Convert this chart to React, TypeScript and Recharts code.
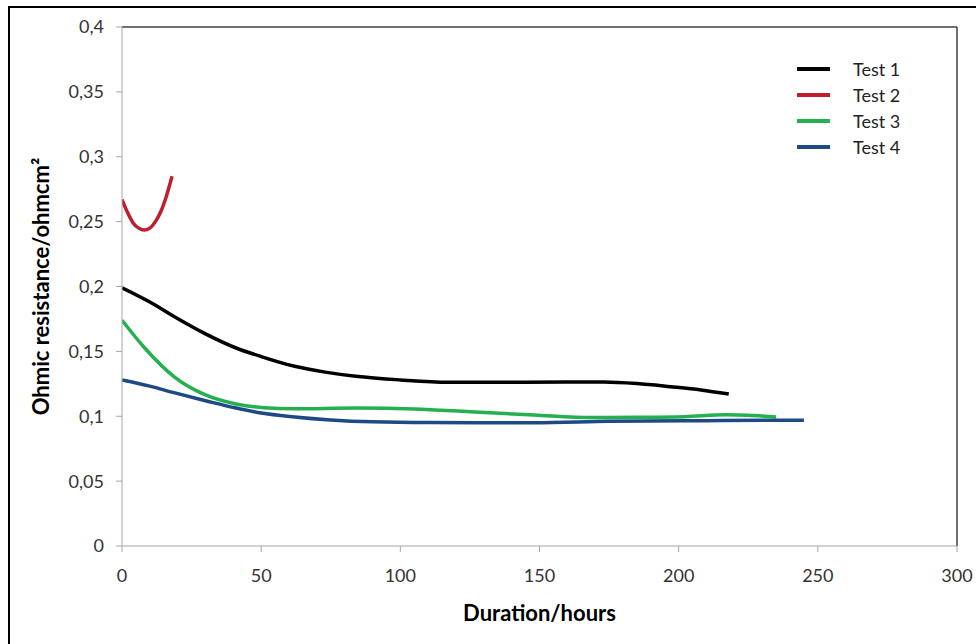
import { LineChart, Line, XAxis, YAxis, ReferenceLine, Label } from "recharts";

// Test 1
const test1Hours = [0, 10, 19, 30, 41, 50, 62, 73, 84, 100, 117, 145, 173, 185, 197, 208, 218];
const test1Values = [0.199, 0.188, 0.1765, 0.1635, 0.1526, 0.146, 0.1385, 0.134, 0.1308, 0.128, 0.1262, 0.1262, 0.1264, 0.1252, 0.1228, 0.1203, 0.1171];

// Test 2
const test2Hours = [0, 2, 4, 6, 8, 10, 12, 14, 16, 18];
const test2Values = [0.267, 0.257, 0.249, 0.245, 0.2435, 0.245, 0.25, 0.258, 0.27, 0.285];

// Test 3
const test3Hours = [0, 8, 19, 30, 41, 51, 62, 84, 105, 125, 148, 169, 185, 202, 217, 225, 235];
const test3Values = [0.174, 0.153, 0.13, 0.1164, 0.1094, 0.1066, 0.1058, 0.1063, 0.1056, 0.1035, 0.101, 0.099, 0.0992, 0.0997, 0.1012, 0.1008, 0.0994];

// Test 4
const test4Hours = [0, 10, 19, 30, 41, 50, 62, 75, 90, 110, 148, 175, 210, 245];
const test4Values = [0.128, 0.1232, 0.118, 0.112, 0.1063, 0.1025, 0.0995, 0.0972, 0.0957, 0.0951, 0.095, 0.0961, 0.0966, 0.097];

const xTicks = [0, 50, 100, 150, 200, 250, 300];
const yTicks = [0, 0.05, 0.1, 0.15, 0.2, 0.25, 0.3, 0.35, 0.4];

const toRows = (hours: number[], values: number[]) =>
  hours.map((h, i) => ({ hours: h, value: values[i] }));

const series = [
  { name: "Test 1", color: "#000000", data: toRows(test1Hours, test1Values) },
  { name: "Test 2", color: "#be1e2d", data: toRows(test2Hours, test2Values) },
  { name: "Test 3", color: "#24b04f", data: toRows(test3Hours, test3Values) },
  { name: "Test 4", color: "#1d4a85", data: toRows(test4Hours, test4Values) },
];

const font = "Lato, 'Open Sans', sans-serif";
const tickStyle = { fontSize: 18, fill: "#333", fontFamily: font };
const titleStyle = { fontFamily: font, fontSize: 22, fontWeight: 700, fill: "#000" };

export default function App() {
  return (
    <div style={{ position: "absolute", left: 0, top: 0, width: 976, height: 644, overflow: "hidden", background: "#fff" }}>
      <div style={{ position: "absolute", left: 8, top: 6, width: 1000, height: 700, border: "2px solid #000" }} />
      <div style={{ position: "absolute", left: 0, top: 0 }}>
        <LineChart width={976} height={644} margin={{ top: 27, right: 19, left: 62, bottom: 68 }}>
          <XAxis
            dataKey="hours"
            type="number"
            domain={[0, 300]}
            ticks={xTicks}
            allowDataOverflow
            stroke="#a6a6a6"
            tickSize={6}
            tickMargin={17}
            tick={tickStyle}
            height={30}
          >
            <Label value="Duration/hours" position="bottom" offset={29} style={titleStyle} />
          </XAxis>
          <YAxis
            type="number"
            domain={[0, 0.4]}
            ticks={yTicks}
            stroke="#a6a6a6"
            tickSize={6}
            tickMargin={12}
            width={60}
            tick={tickStyle}
            tickFormatter={(v: number) => String(v).replace(".", ",")}
          >
            <Label
              value="Ohmic resistance/ohmcm²"
              angle={-90}
              position="left"
              offset={21}
              style={{ ...titleStyle, textAnchor: "middle" }}
            />
          </YAxis>
          <ReferenceLine y={0.4} stroke="#404040" strokeWidth={1.5} />
          <ReferenceLine x={300} stroke="#404040" strokeWidth={1.5} />
          {series.map((s) => (
            <Line
              key={s.name}
              data={s.data}
              dataKey="value"
              name={s.name}
              type="monotone"
              stroke={s.color}
              strokeWidth={3.5}
              dot={false}
              isAnimationActive={false}
            />
          ))}
        </LineChart>
      </div>
      <div style={{ position: "absolute", top: 56, left: 797, fontFamily: font, fontSize: 18, color: "#222" }}>
        {series.map((s) => (
          <div key={s.name} style={{ display: "flex", alignItems: "center", height: 26 }}>
            <div style={{ width: 33, height: 4, backgroundColor: s.color, marginRight: 23 }} />
            <span>{s.name}</span>
          </div>
        ))}
      </div>
    </div>
  );
}
